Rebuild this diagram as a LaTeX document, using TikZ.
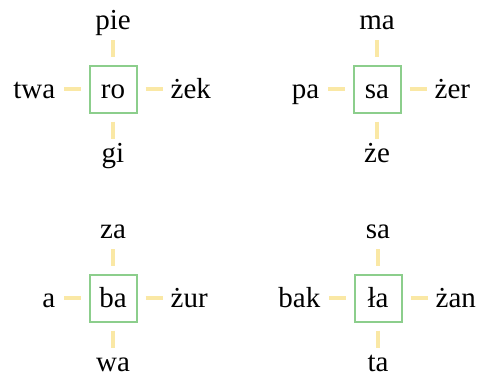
\documentclass[tikz,border=0pt]{standalone}
\usepackage{fontspec}
\setmainfont{LiberationSerif}[Extension=.ttf,UprightFont=*-Regular]
\usetikzlibrary{positioning}
\definecolor{boxgreen}{RGB}{140,206,140}
\definecolor{linkyellow}{RGB}{250,232,165}

\begin{document}
\begin{tikzpicture}
 [x=1pt,y=-1pt,
% Syllable box style
    syl/.style={rectangle,draw=boxgreen,line width=2pt,minimum size=47pt,
        inner sep=0pt,text height=19pt,text depth=0pt,
        font=\rmfamily\fontsize{29}{31}\selectfont},
% Surrounding syllables
    word/.style={inner sep=0pt,text height=19pt,text depth=0pt,
        font=\rmfamily\fontsize{29}{31}\selectfont},
% Connector style
    link/.style={draw=linkyellow,line width=4pt,shorten <=8pt,shorten >=8pt},
    up/.style={above=35pt of #1},
    down/.style={below=30pt of #1},
    lft/.style={left=33pt of #1},
    rgt/.style={right=33pt of #1}
    ]
 \useasboundingbox (0,0) rectangle (488,380);
%% Top left cross
 \node (ro) [syl] at (113,89) {ro};
 \node (pie) [word,up=ro] {pie};
 \node (gi)  [word,down=ro] {gi};
 \node (twa) [word,lft=ro] {twa};
 \node (zek) [word,rgt=ro] {żek};
 \draw [link,shorten >=10pt] (ro) -- (pie);
 \draw [link,shorten >=5pt] (ro) -- (gi);
 \draw [link] (ro) -- (twa);
 \draw [link] (ro) -- (zek);
%% Top right cross
 \node (sa) [syl] at (377,89) {sa};
 \node (ma) [word,up=sa] {ma};
 \node (ze) [word,down=sa] {że};
 \node (pa) [word,lft=sa] {pa};
 \node (zer) [word,rgt=sa] {żer};
 \draw [link,shorten >=10pt] (sa) -- (ma);
 \draw [link,shorten >=5pt] (sa) -- (ze);
 \draw [link] (sa) -- (pa);
 \draw [link] (sa) -- (zer);
%% Bottom left cross
 \node (ba) [syl] at (113,298) {ba};
 \node (za) [word,up=ba] {za};
 \node (wa) [word,down=ba] {wa};
 \node (a)  [word,lft=ba] {a};
 \node (zur) [word,rgt=ba] {żur};
 \draw [link,shorten >=10pt] (ba) -- (za);
 \draw [link,shorten >=5pt] (ba) -- (wa);
 \draw [link] (ba) -- (a);
 \draw [link] (ba) -- (zur);
%% Bottom right cross
 \node (la) [syl] at (378,298) {ła};
 \node (sa2) [word,up=la] {sa};
 \node (ta)  [word,down=la] {ta};
 \node (bak) [word,lft=la] {bak};
 \node (zan) [word,rgt=la] {żan};
 \draw [link,shorten >=10pt] (la) -- (sa2);
 \draw [link,shorten >=5pt] (la) -- (ta);
 \draw [link] (la) -- (bak);
 \draw [link] (la) -- (zan);
\end{tikzpicture}
\end{document}
